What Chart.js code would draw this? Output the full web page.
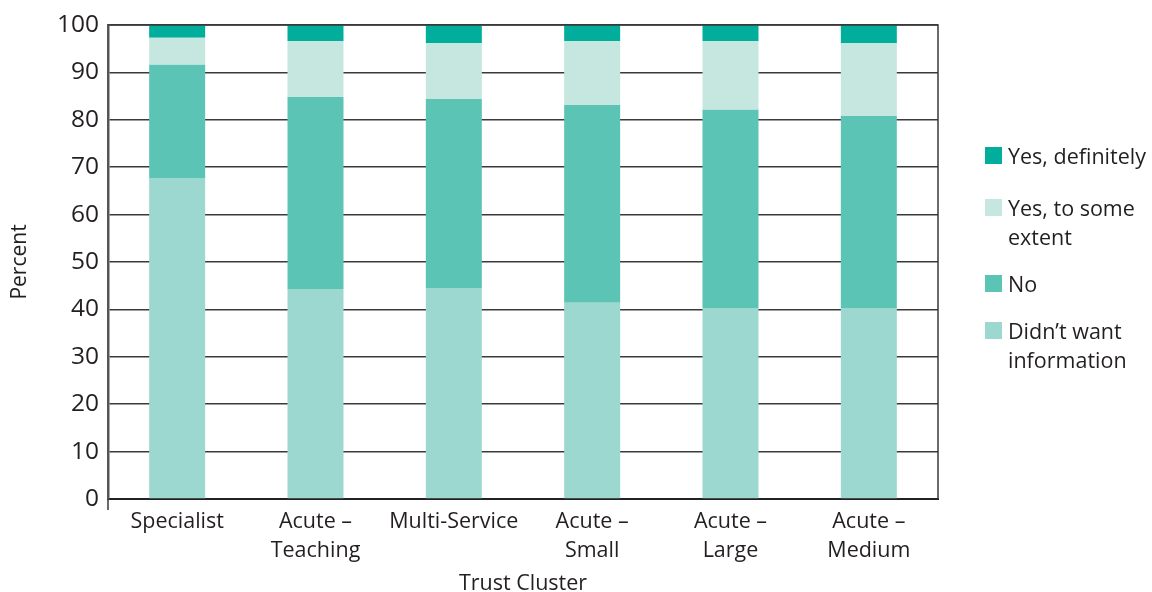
<!DOCTYPE html>
<html><head><meta charset="utf-8">
<script src="https://cdn.jsdelivr.net/npm/chart.js@4/dist/chart.umd.min.js"></script>
<style>
html,body{margin:0;padding:0;background:#fff;}
#wrap{position:relative;width:1152px;height:592px;}
#legend{position:absolute;left:985px;top:0;font-family:"Open Sans",sans-serif;font-size:21.5px;color:#231f20;line-height:29px;}
.li{position:absolute;left:0;white-space:nowrap;}
.sw{position:absolute;left:0;width:17px;height:17px;}
.tx{position:absolute;left:23px;}
</style></head>
<body><div id="wrap"><canvas id="c" width="1152" height="592"></canvas><div id="legend"></div></div>
<script>
const categories = [["Specialist"],["Acute –","Teaching"],["Multi-Service"],["Acute –","Small"],["Acute –","Large"],["Acute –","Medium"]];
const didntWant = [67.7, 44.3, 44.5, 41.4, 40.3, 40.3];
const no = [23.9, 40.5, 39.9, 41.7, 41.8, 40.5];
const yesSome = [5.7, 11.8, 11.8, 13.5, 14.5, 15.4];
const yesDef = [2.7, 3.4, 3.8, 3.4, 3.4, 3.8];
const yTicks = [0,10,20,30,40,50,60,70,80,90,100];
const legendLabels = [["Yes, definitely"],["Yes, to some","extent"],["No"],["Didn’t want","information"]];
const colors = {def:"#00ae9b", some:"#c6e7e0", no:"#5bc4b4", didnt:"#9cd8cf"};

const font = "'Open Sans', sans-serif";
const frame = {id:'frame', afterDraw(chart){
  const {ctx, chartArea:a} = chart;
  ctx.save(); ctx.strokeStyle="#3a3a3a"; ctx.lineWidth=1.5;
  ctx.beginPath(); ctx.moveTo(a.left,a.top); ctx.lineTo(a.right,a.top); ctx.lineTo(a.right,a.bottom); ctx.stroke();
  ctx.beginPath(); ctx.moveTo(a.left,a.bottom); ctx.lineTo(a.left,a.bottom+11); ctx.stroke();
  ctx.restore();
}};
new Chart(document.getElementById('c'), {
  type:'bar',
  data:{labels:categories, datasets:[
    {label:"Didn’t want information", data:didntWant, backgroundColor:colors.didnt},
    {label:"No", data:no, backgroundColor:colors.no},
    {label:"Yes, to some extent", data:yesSome, backgroundColor:colors.some},
    {label:"Yes, definitely", data:yesDef, backgroundColor:colors.def}
  ]},
  options:{
    responsive:false, animation:false, devicePixelRatio:1,
    layout:{padding:{left:0,right:214,top:25,bottom:0}},
    plugins:{legend:{display:false}, tooltip:{enabled:false}},
    datasets:{bar:{categoryPercentage:0.8, barPercentage:0.506}},
    scales:{
      x:{stacked:true, grid:{display:false}, border:{color:"#222",width:2},
         ticks:{color:"#231f20", font:{family:font,size:21.5,lineHeight:1.35}, padding:0, maxRotation:0},
         title:{display:true,text:"Trust Cluster",color:"#231f20",font:{family:font,size:21.5,lineHeight:0.75},padding:{top:0,bottom:0}},
         afterFit(s){s.height=93;}},
      y:{stacked:true, min:0, max:100, afterBuildTicks(s){s.ticks=yTicks.map(v=>({value:v}));},
         grid:{color:"#3a3a3a", lineWidth:1.5, drawTicks:false, z:-1}, border:{color:"#555",width:2.5},
         ticks:{color:"#231f20", font:{family:font,size:24.5}, padding:9},
         title:{display:true,text:"Percent",color:"#231f20",font:{family:font,size:21},padding:{top:7,bottom:0}},
         afterFit(s){s.width=108;}}
    }
  },
  plugins:[frame]
});
const lg=document.getElementById('legend');
const lcol=[colors.def,colors.some,colors.no,colors.didnt];
const tops=[141,193,269,316];
legendLabels.forEach((l,i)=>{
  const d=document.createElement('div'); d.className='li'; d.style.top=tops[i]+'px';
  d.innerHTML='<div class="sw" style="top:6px;background:'+lcol[i]+'"></div><div class="tx">'+l.join('<br>')+'</div>';
  lg.appendChild(d);
});
</script></body></html>
